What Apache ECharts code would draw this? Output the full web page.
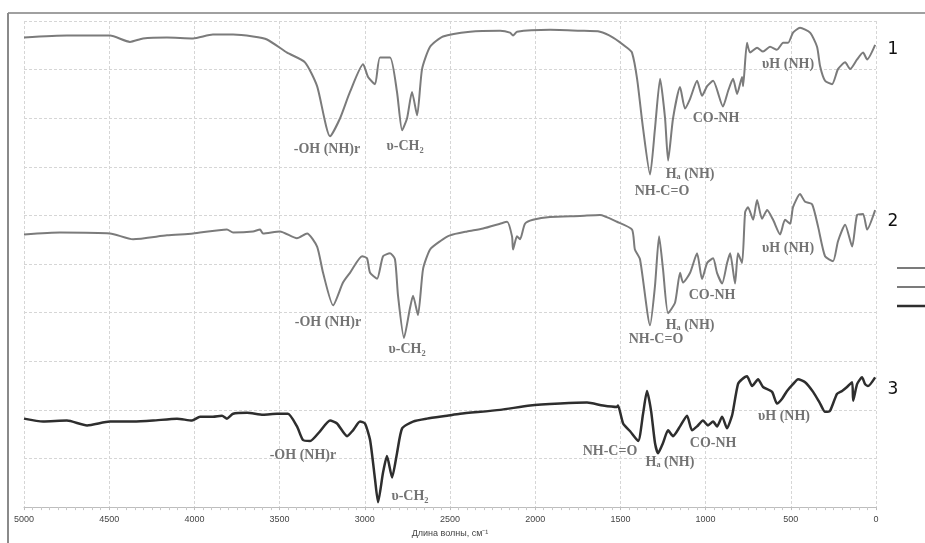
<!DOCTYPE html>
<html>
<head>
<meta charset="utf-8">
<title>ИК-спектры</title>
<script src="https://cdn.jsdelivr.net/npm/echarts@6/dist/echarts.min.js"></script>
<style>
    html, body { margin: 0; padding: 0; background: #fff; }
    #spectrum { width: 925px; height: 543px; }
</style>
</head>
<body>
<div id="spectrum"></div>
<script>
// wavenumber (cm-1), transmittance (relative units)
var spectrum1 = [
    [5000,96.6],[4748,97.0],[4495,97.0],[4378,95.7],[4302,96.4],[4161,96.6],[4008,96.4],[3891,97.2],
    [3773,97.2],[3656,96.8],[3574,96.2],[3456,93.5],[3351,91.5],[3280,86.6],[3204,76.3],[3145,80.0],
    [3087,85.4],[3010,91.1],[2981,88.5],[2940,87.0],[2911,92.5],[2852,92.5],[2811,85.4],[2781,77.5],
    [2752,80.0],[2723,85.4],[2693,80.6],[2664,90.1],[2617,94.7],[2541,96.8],[2382,97.8],[2206,98.0],
    [2148,97.6],[2130,97.0],[2107,97.8],[1913,98.2],[1737,98.0],[1620,97.8],[1543,96.6],[1461,94.5],
    [1432,93.5],[1402,88.1],[1367,77.9],[1326,68.4],[1297,77.9],[1267,88.1],[1238,80.0],[1220,71.3],
    [1191,80.0],[1150,86.4],[1121,82.0],[1091,84.0],[1050,87.7],[1021,84.6],[991,86.6],[956,87.7],
    [898,82.4],[868,85.6],[839,88.1],[815,85.0],[786,88.5],[780,86.6],[757,95.5],[739,93.5],
    [698,94.5],[663,93.7],[622,94.7],[581,94.1],[545,95.5],[516,95.5],[487,97.6],[446,98.6],
    [387,97.6],[346,94.7],[328,90.7],[299,87.7],[258,87.0],[223,90.1],[181,91.5],[152,90.1],
    [111,92.1],[76,93.5],[52,92.1],[5,95.1]
];

var spectrum2 = [
    [5000,56.1],[4789,56.5],[4495,56.3],[4360,55.1],[4161,55.9],[4008,56.3],[3809,57.1],[3773,56.5],
    [3656,56.7],[3615,57.1],[3597,56.3],[3498,56.7],[3398,55.3],[3339,56.3],[3280,53.6],[3245,48.2],
    [3186,41.5],[3128,46.2],[3087,48.2],[3016,51.6],[2987,51.2],[2969,48.2],[2928,47.0],[2893,51.6],
    [2852,52.2],[2823,51.0],[2805,43.5],[2770,34.8],[2735,40.9],[2717,43.5],[2688,39.5],[2658,49.0],
    [2617,53.0],[2558,54.7],[2500,55.9],[2400,56.7],[2306,57.3],[2206,58.3],[2165,58.7],[2136,55.7],
    [2130,53.0],[2107,55.7],[2089,55.1],[2060,58.3],[2013,59.1],[1913,59.7],[1737,59.9],[1620,60.1],
    [1520,58.7],[1432,57.1],[1415,53.0],[1385,51.0],[1326,37.4],[1297,45.5],[1273,55.7],[1250,49.0],
    [1220,39.9],[1179,42.1],[1150,48.2],[1132,46.2],[1091,48.2],[1050,52.2],[1021,46.9],[991,50.2],
    [956,51.2],[933,48.2],[903,46.0],[874,50.2],[856,52.2],[827,46.0],[810,52.2],[786,50.2],
    [768,60.7],[751,61.7],[721,59.1],[698,63.2],[669,59.3],[639,61.1],[604,59.1],[563,56.1],
    [534,59.1],[504,58.3],[487,61.7],[446,64.4],[416,62.8],[375,62.3],[340,57.7],[299,51.6],
    [252,50.6],[223,54.7],[181,58.1],[140,53.6],[111,60.1],[76,60.3],[52,57.1],[5,61.1]
];

var spectrum3 = [
    [5000,18.2],[4888,17.6],[4748,17.8],[4630,16.8],[4495,17.6],[4360,17.6],[4243,17.8],[4102,18.2],
    [4014,17.8],[3967,18.6],[3891,18.6],[3838,18.8],[3809,18.2],[3773,19.2],[3691,19.4],[3597,19.0],
    [3515,19.2],[3451,19.2],[3398,16.6],[3363,13.8],[3321,13.6],[3263,15.6],[3204,17.8],[3163,17.2],
    [3104,14.6],[3069,15.8],[3028,17.6],[2999,17.2],[2969,13.8],[2940,5.7],[2922,1.0],[2893,7.1],
    [2870,10.5],[2840,6.1],[2811,11.1],[2781,16.2],[2717,17.6],[2635,18.2],[2517,18.8],[2441,19.2],
    [2206,20.0],[2030,20.9],[1854,21.3],[1696,21.5],[1602,20.9],[1520,20.6],[1514,20.9],[1484,17.2],
    [1443,15.6],[1396,13.6],[1367,19.2],[1344,23.9],[1320,19.8],[1297,13.2],[1279,11.1],[1250,13.2],
    [1220,15.8],[1191,14.6],[1150,16.6],[1109,18.8],[1080,15.8],[1050,16.6],[1015,17.8],[986,16.8],
    [956,17.6],[933,16.6],[903,18.6],[874,16.2],[845,18.8],[839,19.8],[810,25.3],[786,26.3],
    [757,26.9],[727,24.9],[692,26.3],[663,24.7],[610,23.7],[581,21.3],[551,22.3],[522,23.9],
    [487,25.3],[457,26.3],[416,25.7],[369,23.7],[328,21.3],[299,19.6],[270,19.8],[229,23.3],
    [199,23.9],[170,24.7],[140,25.7],[134,21.9],[111,25.3],[82,26.7],[64,25.3],[47,24.9],[5,26.7]
];

// подписи полос поглощения: [см-1, положение, текст]
var bands1 = [
    [3222,73.5,'-OH (NH)r'],[2764,74.3,'υ-CH₂'],[1256,65.0,'NH-C=O'],
    [1091,68.4,'Hₐ (NH)'],[939,80.0,'CO-NH'],[516,91.1,'υH (NH)']
];
var bands2 = [
    [3216,38.1,'-OH (NH)r'],[2752,32.4,'υ-CH₂'],[1291,34.4,'NH-C=O'],
    [1091,37.4,'Hₐ (NH)'],[962,43.5,'CO-NH'],[516,53.2,'υH (NH)']
];
var bands3 = [
    [3363,10.7,'-OH (NH)r'],[2735,2.2,'υ-CH₂'],[1561,11.5,'NH-C=O'],
    [1209,9.1,'Hₐ (NH)'],[956,13.2,'CO-NH'],[540,18.6,'υH (NH)']
];

var seriesNames = ['1', '2', '3'];
var seriesColors = ['#7b7b7b', '#7b7b7b', '#2e2e2e'];

var chart = echarts.init(document.getElementById('spectrum'));

var gridLine = { color: '#d6d6d6', width: 1, type: [3, 2] };
var bandFont = {
    show: true,
    position: 'inside',
    fontFamily: 'Liberation Serif',
    fontSize: 14,
    fontWeight: 'bold',
    color: '#505050',
    formatter: function (p) { return p.value[2]; }
};

function bandSeries(data) {
    return {
        type: 'scatter',
        symbolSize: 0,
        silent: true,
        data: data,
        label: bandFont,
        z: 5
    };
}

function lineSeries(i, data, width) {
    return {
        name: seriesNames[i],
        type: 'line',
        data: data,
        showSymbol: false,
        smooth: 0.2,
        lineStyle: { color: seriesColors[i], width: width },
        itemStyle: { color: seriesColors[i] },
        z: 3
    };
}

var option = {
    backgroundColor: '#fff',
    animation: false,
    grid: { left: 24, right: 49, top: 21, bottom: 28 },
    xAxis: {
        type: 'value',
        inverse: true,
        min: 0,
        max: 5000,
        interval: 500,
        name: 'Длина волны, см⁻¹',
        nameLocation: 'middle',
        nameGap: 21,
        nameTextStyle: { fontSize: 9, color: '#444', fontFamily: 'Liberation Sans' },
        axisLine: { lineStyle: { color: '#bdbdbd', width: 1 } },
        axisTick: { show: true, length: 3, lineStyle: { color: '#bdbdbd' } },
        minorTick: { show: true, splitNumber: 10, length: 3, lineStyle: { color: '#c8c8c8' } },
        axisLabel: {
            fontSize: 9, color: '#444', fontFamily: 'Liberation Sans', margin: 8,
            formatter: function (v) { return String(v); }
        },
        splitLine: { show: true, lineStyle: gridLine }
    },
    yAxis: {
        type: 'value',
        min: 0,
        max: 100,
        interval: 10,
        axisLine: { show: false },
        axisTick: { show: false },
        axisLabel: { show: false },
        splitLine: { show: true, lineStyle: gridLine }
    },
    series: [
        lineSeries(0, spectrum1, 2),
        lineSeries(1, spectrum2, 2),
        lineSeries(2, spectrum3, 2.5),
        bandSeries(bands1),
        bandSeries(bands2),
        bandSeries(bands3)
    ],
    graphic: [
        // рамка
        { type: 'line', shape: { x1: 8, y1: 13, x2: 925, y2: 13 }, style: { stroke: '#a0a0a0', lineWidth: 2 } },
        { type: 'line', shape: { x1: 8, y1: 13, x2: 8, y2: 543 }, style: { stroke: '#8a8a8a', lineWidth: 2 } },
        // номера кривых
        { type: 'text', x: 893, y: 50, style: { text: '1', font: '17px "DejaVu Sans"', fill: '#111', align: 'center', verticalAlign: 'middle' } },
        { type: 'text', x: 893, y: 222, style: { text: '2', font: '17px "DejaVu Sans"', fill: '#111', align: 'center', verticalAlign: 'middle' } },
        { type: 'text', x: 893, y: 390, style: { text: '3', font: '17px "DejaVu Sans"', fill: '#111', align: 'center', verticalAlign: 'middle' } },
        // условные обозначения
        { type: 'line', shape: { x1: 897, y1: 268, x2: 925, y2: 268 }, style: { stroke: '#7b7b7b', lineWidth: 2 } },
        { type: 'line', shape: { x1: 897, y1: 287, x2: 925, y2: 287 }, style: { stroke: '#7b7b7b', lineWidth: 2 } },
        { type: 'line', shape: { x1: 897, y1: 306, x2: 925, y2: 306 }, style: { stroke: '#2e2e2e', lineWidth: 2.5 } }
    ]
};

chart.setOption(option);
</script>
</body>
</html>
